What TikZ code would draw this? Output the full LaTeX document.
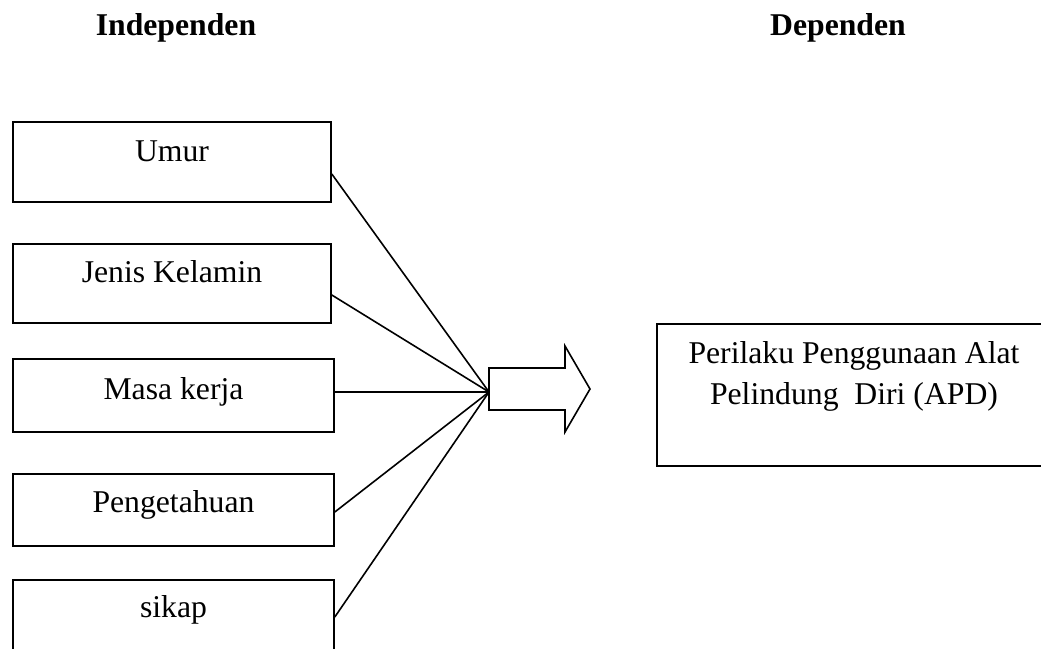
\documentclass[tikz,border=0pt]{standalone}
\usepackage{fontspec}
\setmainfont{Liberation Serif}
\begin{document}
\begin{tikzpicture}[x=1pt,y=-1pt,
  every node/.style={font=\fontsize{31.7}{38}\selectfont},
  varbox/.style={draw,line width=1.6pt,inner sep=0pt},
  lbl/.style={anchor=base,inner sep=0pt},
  conn/.style={line width=1.6pt},
  head/.style={anchor=base,inner sep=0pt,font=\fontsize{31.7}{38}\selectfont\bfseries}]
\useasboundingbox (0,0) rectangle (1041,648);
% headers
\node[head] (hi) at (176,35) {Independen};
\node[head] (hd) at (838,35) {Dependen};
% left boxes
\node[varbox,minimum width=318pt,minimum height=80pt] (b1) at (172,162) {};
\node[varbox,minimum width=318pt,minimum height=79pt] (b2) at (172,283.5) {};
\node[varbox,minimum width=321pt,minimum height=73pt] (b3) at (173.5,395.5) {};
\node[varbox,minimum width=321pt,minimum height=72pt] (b4) at (173.5,510) {};
\node[varbox,minimum width=321pt,minimum height=80pt] (b5) at (173.5,620) {};
\node[lbl] (t1) at ([yshift=-40pt]b1.north) {Umur};
\node[lbl] (t2) at ([yshift=-39pt]b2.north) {Jenis Kelamin};
\node[lbl] (t3) at ([yshift=-41pt]b3.north) {Masa kerja};
\node[lbl] (t4) at ([yshift=-39pt]b4.north) {Pengetahuan};
\node[lbl] (t5) at ([yshift=-38pt]b5.north) {sikap};
% big arrow
\coordinate (hub) at (489,392);
\draw[conn,line join=miter] (489,368) -- (565,368) -- (565,346) -- (590,389)
  -- (565,432) -- (565,410) -- (489,410) -- cycle;
% connectors
\draw[conn] ([yshift=-12pt]b1.east) -- (hub);
\draw[conn] ([yshift=-11.5pt]b2.east) -- (hub);
\draw[conn] ([yshift=3.5pt]b3.east) -- (hub);
\draw[conn] ([yshift=-2pt]b4.east) -- (hub);
\draw[conn] ([yshift=3pt]b5.east) -- (hub);
% dependent box
\node[varbox,minimum width=391pt,minimum height=142pt] (dep) at (852.5,395) {};
\node[lbl] (d1) at (854,363) {Perilaku Penggunaan Alat};
\node[lbl] (d2) at (854,404) {Pelindung\ \ Diri (APD)};
\end{tikzpicture}
\end{document}
